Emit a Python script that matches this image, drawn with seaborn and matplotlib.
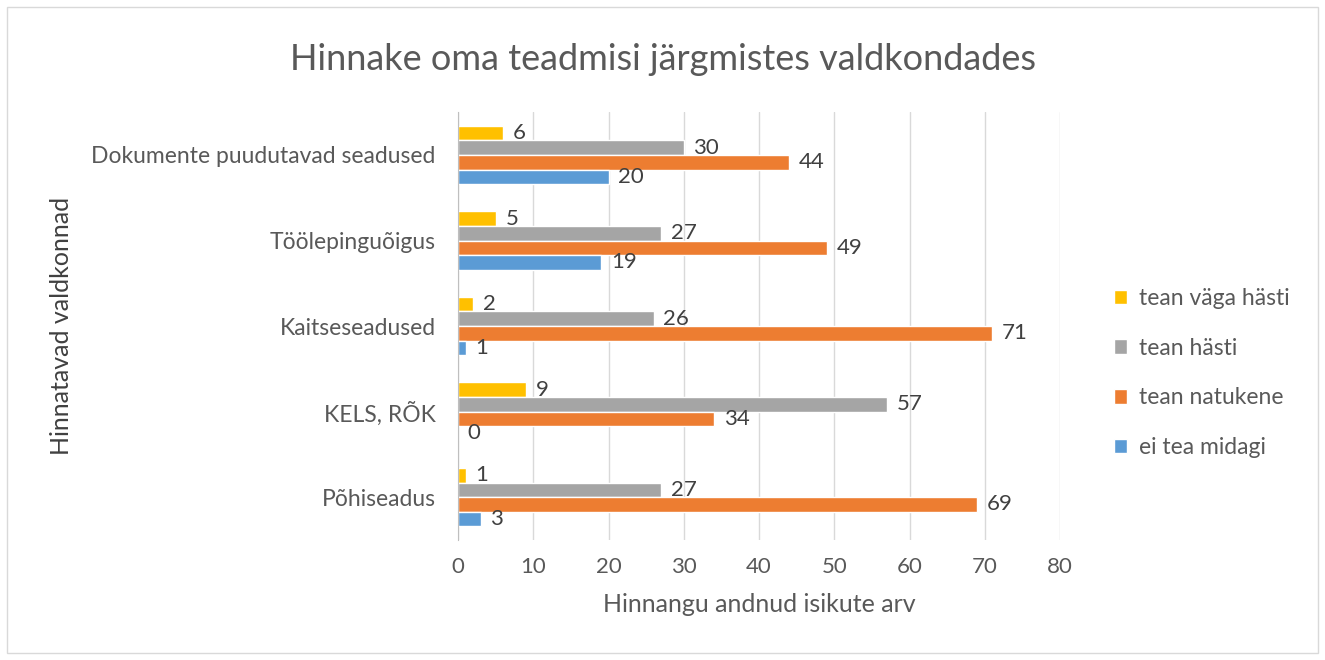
import pandas as pd
import seaborn as sns
import matplotlib.pyplot as plt
from matplotlib.patches import Rectangle

categories = ["Dokumente puudutavad seadused", "Töölepinguõigus", "Kaitseseadused",
              "KELS, RÕK", "Põhiseadus"]
tean_vaga_hasti = [6, 5, 2, 9, 1]
tean_hasti = [30, 27, 26, 57, 27]
tean_natukene = [44, 49, 71, 34, 69]
ei_tea_midagi = [20, 19, 1, 0, 3]

series = {
    "tean väga hästi": tean_vaga_hasti,
    "tean hästi": tean_hasti,
    "tean natukene": tean_natukene,
    "ei tea midagi": ei_tea_midagi,
}
colors = ["#FFC000", "#A5A5A5", "#ED7D31", "#5B9BD5"]

rows = []
for name, vals in series.items():
    for cat, v in zip(categories, vals):
        rows.append({"valdkond": cat, "hinnang": name, "arv": v})
df = pd.DataFrame(rows)

sns.set_style("white")
plt.rcParams["font.family"] = ["Lato", "DejaVu Sans"]
text_col = "#595959"

fig = plt.figure(figsize=(13.25, 6.6), dpi=100)
ax = fig.add_axes([0.3457, 0.182, 0.4543, 0.648])

sns.barplot(data=df, y="valdkond", x="arv", hue="hinnang", order=categories,
            hue_order=list(series.keys()), palette=colors, orient="h",
            width=0.68, saturation=1, ax=ax)

for cont in ax.containers:
    ax.bar_label(cont, padding=7, fontsize=16, color="#404040")

ax.set_xlim(0, 80)
ax.set_xticks(range(0, 81, 10))
ax.grid(axis="x", color="#D9D9D9", linewidth=1)
ax.set_axisbelow(True)
for s in ["top", "right", "bottom"]:
    ax.spines[s].set_visible(False)
ax.spines["left"].set_color("#BFBFBF")
ax.tick_params(axis="y", length=0, labelsize=16.5, colors=text_col, pad=16)
ax.tick_params(axis="x", length=0, labelsize=16, colors=text_col, pad=12)
ax.set_xlabel("Hinnangu andnud isikute arv", fontsize=18, color=text_col, labelpad=12)
ax.set_ylabel("Hinnatavad valdkonnad", fontsize=18, color="#404040")
ax.yaxis.set_label_coords(-0.64, 0.5)

fig.suptitle("Hinnake oma teadmisi järgmistes valdkondades", fontsize=26,
             color=text_col, y=0.935)

leg = ax.legend(loc="center left", bbox_to_anchor=(1.055, 0.39), frameon=False,
                fontsize=16.5, handlelength=0.6, handleheight=0.6, labelspacing=1.25,
                handletextpad=0.5)
for t in leg.get_texts():
    t.set_color(text_col)

fig.patches.append(Rectangle((0.005, 0.01), 0.99, 0.98, transform=fig.transFigure,
                             fill=False, edgecolor="#D9D9D9", linewidth=1))

fig.savefig("out.png", dpi=100)
